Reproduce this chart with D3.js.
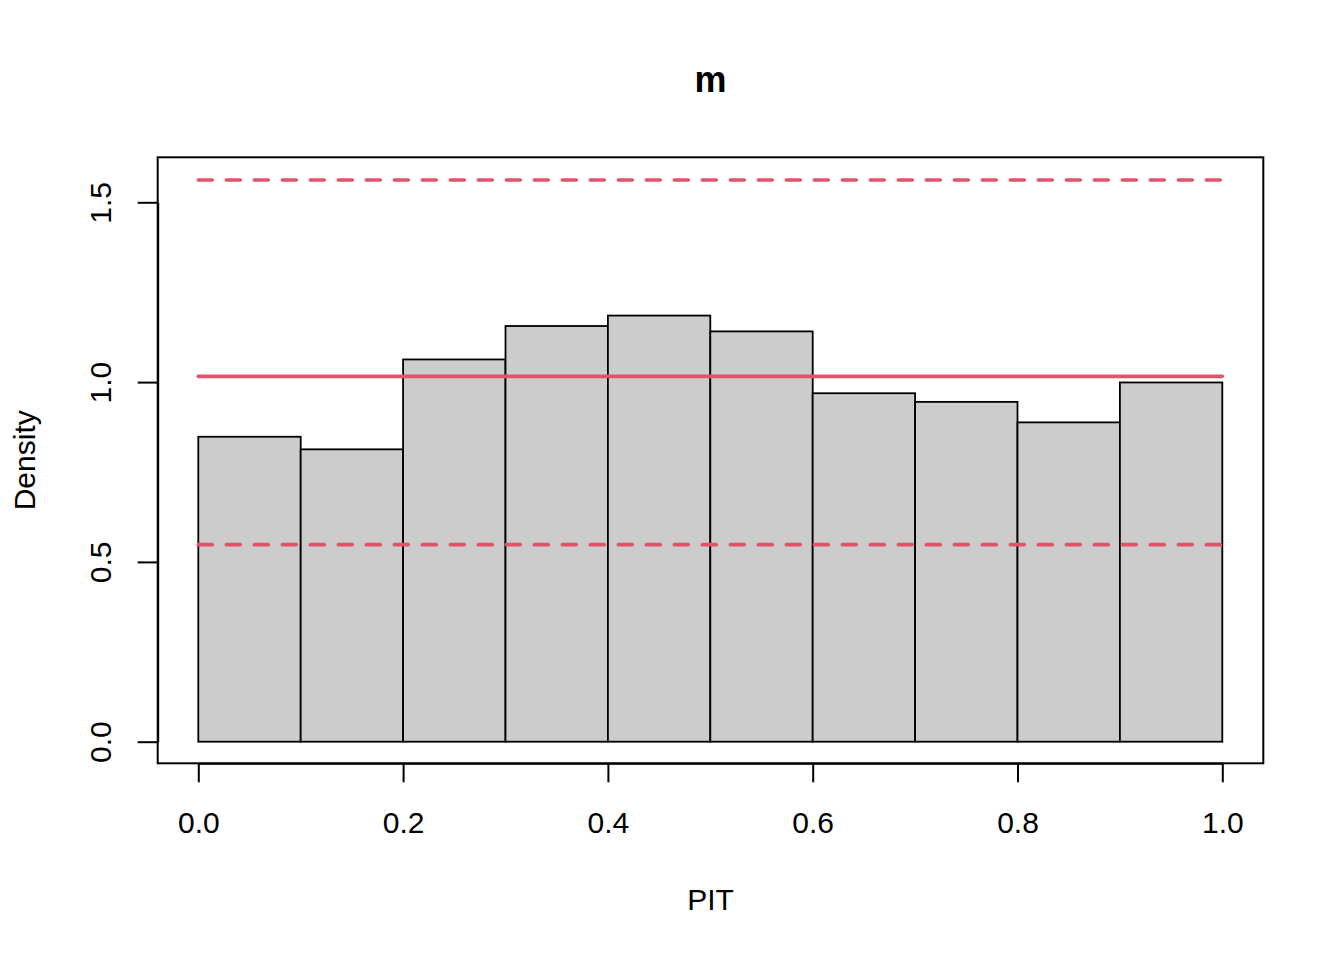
<!DOCTYPE html>
<html>
<head>
<meta charset="utf-8">
<script src="https://cdn.jsdelivr.net/npm/d3@7"></script>
<style>
  body { margin: 0; background: #fff; }
  text { font-family: "Liberation Sans", Arial, Helvetica, sans-serif; }
</style>
</head>
<body>
<div id="chart"></div>
<script>
// PIT histogram values (density per bin)
const binStarts = [0.0, 0.1, 0.2, 0.3, 0.4, 0.5, 0.6, 0.7, 0.8, 0.9];
const binWidth = 0.1;
const densities = [0.848, 0.813, 1.063, 1.156, 1.185, 1.141, 0.969, 0.945, 0.888, 0.999];

// reference lines: mean density and limits
const centerLine = 1.016;
const limitLines = [1.562, 0.548];

const xTicks = [0, 0.2, 0.4, 0.6, 0.8, 1.0];
const yTicks = [0, 0.5, 1.0, 1.5];

const width = 1344;
const height = 960;

// plot box (R's usr region with 4% extension)
const box = { left: 157.7, right: 1263.3, top: 157.3, bottom: 763.3 };

const x = d3.scaleLinear().domain([0, 1]).range([198.3, 1222.3]);
const y = d3.scaleLinear().domain([0, 1.5]).range([741.7, 202.3]);

const red = "#DF536B";

const svg = d3.select("#chart")
  .append("svg")
  .attr("width", width)
  .attr("height", height);

// bars
svg.selectAll(".bar")
  .data(binStarts)
  .enter()
  .append("rect")
  .attr("class", "bar")
  .attr("x", d => x(d))
  .attr("y", (d, i) => y(densities[i]))
  .attr("width", d => x(d + binWidth) - x(d))
  .attr("height", (d, i) => y(0) - y(densities[i]))
  .attr("fill", "#CCCCCC")
  .attr("stroke", "#000")
  .attr("stroke-width", 1.8);

// centre line
svg.append("line")
  .attr("x1", x(0)).attr("x2", x(1))
  .attr("y1", y(centerLine)).attr("y2", y(centerLine))
  .attr("stroke", red)
  .attr("stroke-width", 3.6)
  .attr("stroke-linecap", "round");

// dashed limits
svg.selectAll(".limit")
  .data(limitLines)
  .enter()
  .append("line")
  .attr("class", "limit")
  .attr("x1", x(0)).attr("x2", x(1))
  .attr("y1", d => y(d)).attr("y2", d => y(d))
  .attr("stroke", red)
  .attr("stroke-width", 3.6)
  .attr("stroke-linecap", "round")
  .attr("stroke-dasharray", "14,14");

// box
svg.append("rect")
  .attr("x", box.left)
  .attr("y", box.top)
  .attr("width", box.right - box.left)
  .attr("height", box.bottom - box.top)
  .attr("fill", "none")
  .attr("stroke", "#000")
  .attr("stroke-width", 2);

// x axis
const xAxis = svg.append("g")
  .attr("transform", `translate(0,${box.bottom})`)
  .call(d3.axisBottom(x)
    .tickValues(xTicks)
    .tickFormat(d3.format(".1f"))
    .tickSize(19)
    .tickSizeOuter(0)
    .tickPadding(0));

xAxis.select(".domain").attr("stroke-width", 2);
xAxis.selectAll(".tick line").attr("stroke-width", 2);
xAxis.selectAll(".tick text")
  .attr("y", 69.7)
  .attr("dy", 0)
  .attr("font-size", "30px")
  .attr("fill", "#000");

// y axis
const yAxis = svg.append("g")
  .attr("transform", `translate(${box.left},0)`)
  .call(d3.axisLeft(y)
    .tickValues(yTicks)
    .tickFormat(d3.format(".1f"))
    .tickSize(20)
    .tickSizeOuter(0)
    .tickPadding(0));

yAxis.select(".domain").attr("stroke-width", 2);
yAxis.selectAll(".tick line").attr("stroke-width", 2);
yAxis.selectAll(".tick text")
  .attr("transform", "rotate(-90)")
  .attr("x", 0)
  .attr("y", -46.7)
  .attr("dy", 0)
  .attr("text-anchor", "middle")
  .attr("font-size", "30px")
  .attr("fill", "#000");

// title
svg.append("text")
  .attr("x", (box.left + box.right) / 2)
  .attr("y", 92)
  .attr("text-anchor", "middle")
  .attr("font-size", "36px")
  .attr("font-weight", "bold")
  .text("m");

// axis labels
svg.append("text")
  .attr("x", (box.left + box.right) / 2)
  .attr("y", 909.5)
  .attr("text-anchor", "middle")
  .attr("font-size", "30px")
  .text("PIT");

svg.append("text")
  .attr("transform", `translate(34.5,${(box.top + box.bottom) / 2}) rotate(-90)`)
  .attr("text-anchor", "middle")
  .attr("font-size", "30px")
  .text("Density");
</script>
</body>
</html>
